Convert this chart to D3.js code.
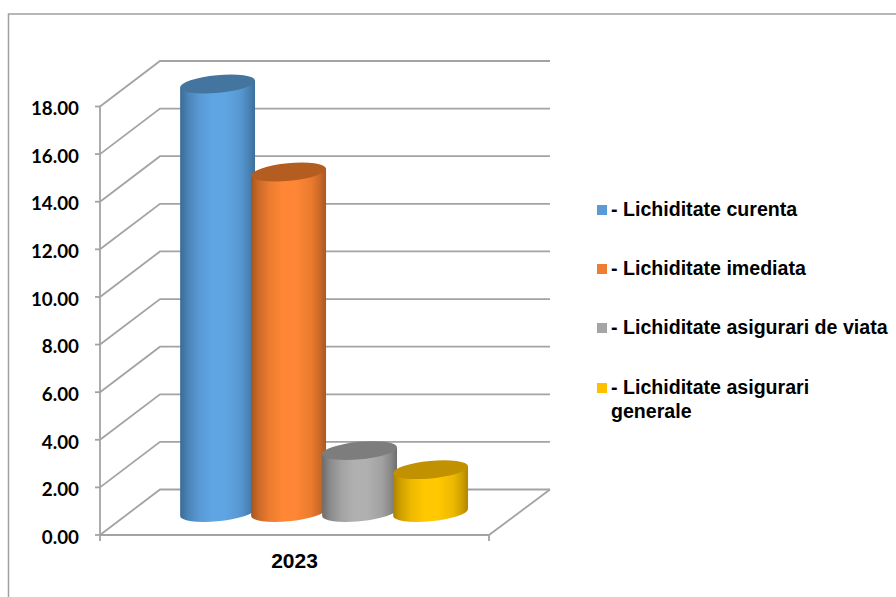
<!DOCTYPE html>
<html>
<head>
<meta charset="utf-8">
<script src="https://cdnjs.cloudflare.com/ajax/libs/d3/7.8.5/d3.min.js"></script>
<style>
html,body{margin:0;padding:0;background:#fff}
svg{display:block}
text{font-family:"Liberation Sans",Arial,sans-serif;font-weight:bold;fill:#000}
text.tick{font-family:Lato,"Liberation Sans",sans-serif}
</style>
</head>
<body>
<svg id="chart" width="896" height="597"></svg>
<script>
// Liquidity indicators for 2023
const categories = ["2023"];
const seriesNames = ["- Lichiditate curenta", "- Lichiditate imediata", "- Lichiditate asigurari de viata", "- Lichiditate asigurari generale"];
const seriesValues = [18.0, 14.3, 2.6, 1.8];
const yTicks = [0, 2, 4, 6, 8, 10, 12, 14, 16, 18];
const legendColors = ["#5b9bd5", "#ed7d31", "#a5a5a5", "#ffc000"];
const bodyEdge = ["#3a6b96", "#a5561f", "#6c6c6c", "#ad8300"];
const bodyMid = ["#5fa5e3", "#ff8634", "#b0b0b0", "#ffc800"];
const capFill = ["#44759f", "#b35d20", "#7d7d7d", "#c29100"];

const svg = d3.select("#chart");
const gridColor = "#a3a3a3";

// Projection of the 3D box: front plane plus a fixed depth offset to the back wall
const y = d3.scaleLinear().domain([0, 18]).range([535, 106.5]);
const depth = {dx: 60, dy: -45.5};
const frontX = d3.scaleBand().domain(categories).range([100, 489]);

// Outer frame, top and left sides only
svg.append("path")
  .attr("d", "M8.5,597V14H896")
  .attr("fill", "none").attr("stroke", "#a0a0a0").attr("stroke-width", 1.5);

// Gradients for the cylinder bodies: quick falloff towards both edges
const defs = svg.append("defs");
seriesValues.forEach((_, i) => {
  const g = defs.append("linearGradient").attr("id", "body" + i);
  const mix = d3.interpolateRgb(bodyEdge[i], bodyMid[i]);
  [[0, 0], [0.1, 0.42], [0.25, 0.8], [0.42, 1], [0.6, 1], [0.8, 0.78], [0.92, 0.4], [1, 0.05]].forEach(([o, m]) =>
    g.append("stop").attr("offset", o).attr("stop-color", mix(m)));
});

// Gridlines: along the side wall, then across the back wall
const grid = svg.append("g").attr("fill", "none").attr("stroke", gridColor).attr("stroke-width", 1.8);
yTicks.forEach(t => {
  const x0 = frontX.range()[0], x1 = frontX.range()[1];
  const yy = y(t);
  grid.append("path").attr("d",
    `M${x0},${yy}L${x0 + depth.dx},${yy + depth.dy}L${x1 + depth.dx + 1},${yy + depth.dy}`);
});

// Floor edges and the value axis
grid.append("path").attr("d",
  `M${frontX.range()[0]},${y(0)}H${frontX.range()[1]}L${frontX.range()[1] + depth.dx + 1},${y(0) + depth.dy}`);
grid.append("path").attr("d", `M${frontX.range()[0]},${y(18)}V${y(0) + 6}`);
grid.append("path").attr("d", `M${frontX.range()[1]},${y(0)}V${y(0) + 6}`);
yTicks.forEach(t => grid.append("path").attr("d", `M${frontX.range()[0] - 5},${y(t)}H${frontX.range()[0]}`));

// Value labels
svg.append("g").selectAll("text").data(yTicks).join("text")
  .attr("class", "tick")
  .attr("x", 79).attr("y", d => y(d) + 2).attr("dy", "0.36em")
  .attr("text-anchor", "end").attr("font-size", 18.8)
  .text(d => d3.format(".2f")(d));

// Category label
svg.append("text").attr("x", frontX("2023") + frontX.bandwidth() / 2).attr("y", 568)
  .attr("text-anchor", "middle").attr("font-size", 21).text(categories[0]);

// Cylinders: slightly overlapping, set midway into the depth of the box
const rx = 37.6, ry = 8.8, tilt = -5.5;
const baseShift = y(0) - 22.5;
const bandW = 71;
const rad = tilt * Math.PI / 180;
const hx = Math.sqrt((rx * Math.cos(rad)) ** 2 + (ry * Math.sin(rad)) ** 2);
const hy = (rx * rx - ry * ry) * Math.sin(rad) * Math.cos(rad) / hx;

const bars = svg.append("g").selectAll("g").data(seriesValues).join("g")
  .attr("transform", (d, i) => `translate(${180 + rx + i * bandW},0)`);
bars.append("path")
  .attr("fill", (d, i) => `url(#body${i})`)
  .attr("d", d => {
    const top = baseShift - (y(0) - y(d));
    return `M${-hx},${top - hy}L${-hx},${baseShift - hy}A${rx},${ry},${tilt},0,0,${hx},${baseShift + hy}L${hx},${top + hy}Z`;
  });
bars.append("ellipse")
  .attr("rx", rx).attr("ry", ry)
  .attr("fill", (d, i) => capFill[i])
  .attr("transform", d => `translate(0,${baseShift - (y(0) - y(d))}) rotate(${tilt})`);

// Legend
const legendY = [210, 269, 328, 388];
const legend = svg.append("g").selectAll("g").data(seriesNames).join("g")
  .attr("transform", (d, i) => `translate(597,${legendY[i]})`);
legend.append("rect").attr("x", 0).attr("y", -5).attr("width", 10).attr("height", 10)
  .attr("fill", (d, i) => legendColors[i]);
legend.append("text").attr("x", 14).attr("y", 6).attr("font-size", 19.6)
  .each(function (d) {
    const t = d3.select(this);
    if (d.endsWith("generale")) {
      t.append("tspan").attr("x", 14).text(d.replace(" generale", ""));
      t.append("tspan").attr("x", 14).attr("dy", 23.5).text("generale");
    } else t.text(d);
  });
</script>
</body>
</html>
